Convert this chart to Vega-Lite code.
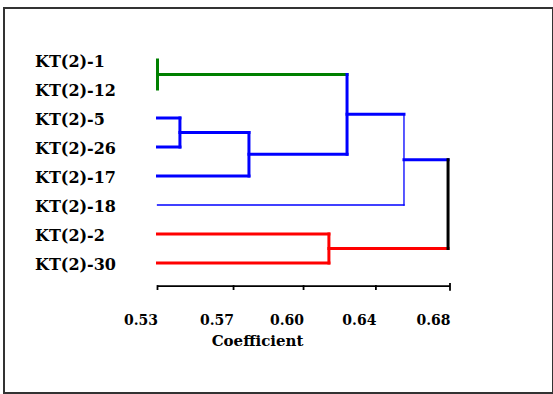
{
  "$schema": "https://vega.github.io/schema/vega-lite/v6.json",
  "autosize": {"type": "none"},
  "width": 549,
  "height": 385,
  "padding": {"left": 4, "top": 8, "right": 0, "bottom": 1},
  "background": "white",
  "config": {"view": {"stroke": "#333333", "strokeWidth": 2}},
  "datasets": {
    "segments": [
      {"x": 0.53, "x2": 0.53, "y": 8.7931, "y2": 8.9, "cluster": "scale"},
      {"x": 0.569, "x2": 0.569, "y": 8.7931, "y2": 8.9, "cluster": "scale"},
      {"x": 0.6049, "x2": 0.6049, "y": 8.7931, "y2": 8.9, "cluster": "scale"},
      {"x": 0.642, "x2": 0.642, "y": 8.7931, "y2": 8.9, "cluster": "scale"},
      {"x": 0.68, "x2": 0.68, "y": 8.72, "y2": 8.93, "cluster": "scale"},
      {"x": 0.53, "x2": 0.53, "y": 1, "y2": 2, "cluster": "G1"},
      {"x": 0.53, "x2": 0.6272, "y": 1.5, "y2": 1.5, "cluster": "G1"},
      {"x": 0.6272, "x2": 0.6272, "y": 1.5, "y2": 4.25, "cluster": "G2"},
      {"x": 0.53, "x2": 0.5415, "y": 3, "y2": 3, "cluster": "G2"},
      {"x": 0.53, "x2": 0.5415, "y": 4, "y2": 4, "cluster": "G2"},
      {"x": 0.5415, "x2": 0.5415, "y": 3, "y2": 4, "cluster": "G2"},
      {"x": 0.5415, "x2": 0.5769, "y": 3.5, "y2": 3.5, "cluster": "G2"},
      {"x": 0.53, "x2": 0.5769, "y": 5, "y2": 5, "cluster": "G2"},
      {"x": 0.5769, "x2": 0.5769, "y": 3.5, "y2": 5, "cluster": "G2"},
      {"x": 0.5769, "x2": 0.6272, "y": 4.25, "y2": 4.25, "cluster": "G2"},
      {"x": 0.6272, "x2": 0.6564, "y": 2.875, "y2": 2.875, "cluster": "G2"},
      {"x": 0.6564, "x2": 0.6564, "y": 2.875, "y2": 6, "cluster": "G3"},
      {"x": 0.53, "x2": 0.6564, "y": 6, "y2": 6, "cluster": "G3"},
      {"x": 0.6564, "x2": 0.679, "y": 4.4375, "y2": 4.4375, "cluster": "G2"},
      {"x": 0.53, "x2": 0.6179, "y": 7, "y2": 7, "cluster": "G4"},
      {"x": 0.53, "x2": 0.6179, "y": 8, "y2": 8, "cluster": "G4"},
      {"x": 0.6179, "x2": 0.6179, "y": 7, "y2": 8, "cluster": "G4"},
      {"x": 0.6179, "x2": 0.679, "y": 7.5, "y2": 7.5, "cluster": "G4"},
      {"x": 0.679, "x2": 0.679, "y": 4.4375, "y2": 7.5, "cluster": "root"}
    ],
    "scaleLine": [
      {"x": 0.53, "x2": 0.68, "y": 8.765, "y2": 8.83}
    ],
    "leaves": [
      {"leaf": "KT(2)-1", "x": 0.53, "y": 1},
      {"leaf": "KT(2)-12", "x": 0.53, "y": 2},
      {"leaf": "KT(2)-5", "x": 0.53, "y": 3},
      {"leaf": "KT(2)-26", "x": 0.53, "y": 4},
      {"leaf": "KT(2)-17", "x": 0.53, "y": 5},
      {"leaf": "KT(2)-18", "x": 0.53, "y": 6},
      {"leaf": "KT(2)-2", "x": 0.53, "y": 7},
      {"leaf": "KT(2)-30", "x": 0.53, "y": 8}
    ]
  },
  "encoding": {
    "x": {
      "field": "x",
      "type": "quantitative",
      "scale": {"domain": [0.451282, 0.732821], "nice": false, "zero": false},
      "axis": {
        "values": [0.53, 0.569, 0.6049, 0.642, 0.68],
        "format": ".2f",
        "orient": "bottom",
        "offset": -107,
        "grid": false,
        "domain": false,
        "ticks": true,
        "tickOpacity": 0,
        "tickSize": 5,
        "labelFont": "DejaVu Serif",
        "labelFontWeight": "bold",
        "labelFontSize": 14,
        "labelColor": "black",
        "labelAlign": "right",
        "labelDx": -3,
        "labelPadding": 22,
        "labelBaseline": "top",
        "labelFlush": false,
        "labelOverlap": false,
        "title": "Coefficient",
        "titleFont": "DejaVu Serif",
        "titleFontWeight": "bold",
        "titleFontSize": 15,
        "titleColor": "black",
        "titleX": 253,
        "titleY": 47,
        "titleBaseline": "top",
        "titleAlign": "center"
      }
    },
    "y": {
      "field": "y",
      "type": "quantitative",
      "scale": {"domain": [-0.7931, 12.4828], "reverse": true, "nice": false, "zero": false},
      "axis": null
    }
  },
  "layer": [
    {
      "data": {"name": "scaleLine"},
      "mark": {"type": "rect", "color": "black", "opacity": 1},
      "encoding": {
        "x2": {"field": "x2"},
        "y2": {"field": "y2"}
      }
    },
    {
      "data": {"name": "segments"},
      "mark": {"type": "rule", "strokeCap": "square"},
      "encoding": {
        "x2": {"field": "x2"},
        "y2": {"field": "y2"},
        "color": {
          "field": "cluster",
          "type": "nominal",
          "scale": {"domain": ["G1", "G2", "G3", "G4", "root", "scale"], "range": ["#008000", "#0000ff", "#0000ff", "#ff0000", "#000000", "#000000"]},
          "legend": null
        },
        "strokeWidth": {
          "condition": [
            {"test": "datum.cluster === 'G3'", "value": 1.3},
            {"test": "datum.cluster === 'scale'", "value": 1.8}
          ],
          "value": 3
        }
      }
    },
    {
      "data": {"name": "leaves"},
      "mark": {"type": "text", "align": "left", "baseline": "middle", "dx": -122.5, "dy": 2, "font": "DejaVu Serif", "fontWeight": "bold", "fontSize": 16, "color": "black"},
      "encoding": {
        "text": {"field": "leaf"}
      }
    }
  ]
}
